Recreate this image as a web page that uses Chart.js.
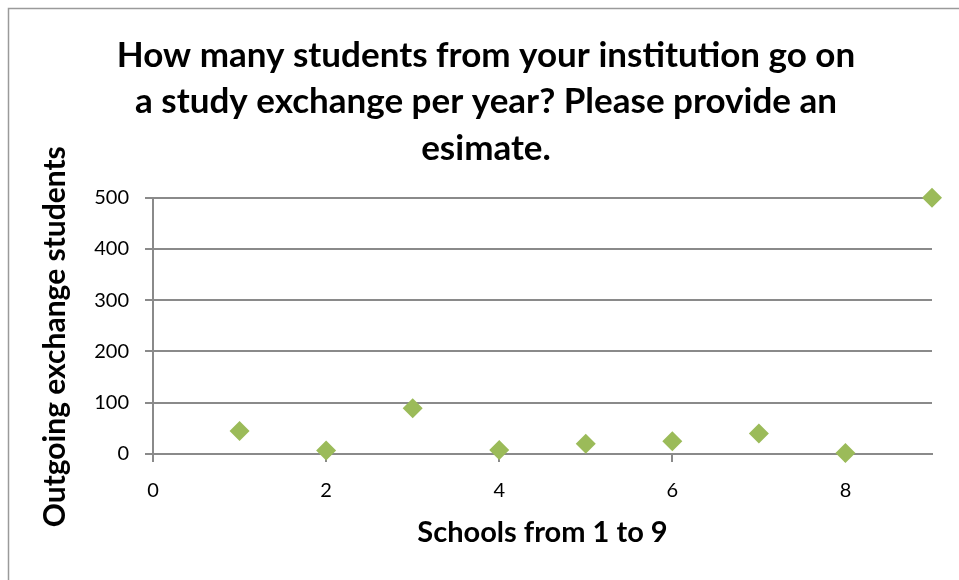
<!DOCTYPE html>
<html>
<head>
<meta charset="utf-8">
<script src="https://cdn.jsdelivr.net/npm/chart.js@4"></script>
<style>
  html, body { margin: 0; padding: 0; background: #fff; }
  #wrap { position: relative; width: 959px; height: 580px; }
</style>
</head>
<body>
<div id="wrap"><canvas id="chart" width="959" height="580"></canvas></div>
<script>
// Schools numbered 1..9 and their yearly outgoing exchange students
const schools = [1, 2, 3, 4, 5, 6, 7, 8, 9];
const outgoingStudents = [45, 7, 89, 8, 20, 25, 40, 2, 500];

const titleLines = [
  'How many students from your institution go on',
  'a study exchange per year? Please provide an',
  'esimate.'
];
const xAxisTitle = 'Schools from 1 to 9';
const yAxisTitle = 'Outgoing exchange students   ';

const points = schools.map((s, i) => ({ x: s, y: outgoingStudents[i] }));

const axisGray = '#8a8a8a';
const fontFamily = 'Lato, "Open Sans", sans-serif';

// Grey frame edges (top and left) of the chart object
const framePlugin = {
  id: 'frame',
  beforeDraw(chart) {
    const ctx = chart.ctx;
    ctx.save();
    ctx.strokeStyle = '#9a9a9a';
    ctx.lineWidth = 1.5;
    ctx.beginPath();
    ctx.moveTo(8.5, 580);
    ctx.lineTo(8.5, 8.5);
    ctx.lineTo(959, 8.5);
    ctx.stroke();
    ctx.restore();
  }
};

new Chart(document.getElementById('chart'), {
  type: 'scatter',
  data: {
    datasets: [{
      data: points,
      clip: false,
      pointStyle: 'rectRot',
      pointRadius: 10,
      pointHoverRadius: 10,
      pointBackgroundColor: '#9BBB59',
      pointBorderColor: '#9BBB59',
      pointBorderWidth: 0
    }]
  },
  options: {
    responsive: false,
    animation: false,
    events: [],
    layout: { padding: { left: 40, right: 27, top: 0, bottom: 0 } },
    plugins: {
      legend: { display: false },
      tooltip: { enabled: false },
      title: {
        display: true,
        text: titleLines,
        color: '#000',
        font: { family: fontFamily, size: 35, weight: 'bold', lineHeight: 1.33 },
        padding: { top: 32, bottom: 26 }
      }
    },
    scales: {
      x: {
        type: 'linear',
        min: 0,
        max: 9,
        afterFit(scale) { scale.height = 126; },
        ticks: {
          stepSize: 2,
          includeBounds: false,
          color: '#000',
          font: { family: fontFamily, size: 20 },
          padding: 17
        },
        grid: {
          drawOnChartArea: false,
          drawTicks: true,
          tickLength: 8,
          color: axisGray,
          lineWidth: 2
        },
        border: { display: true, color: axisGray, width: 2 },
        title: {
          display: true,
          text: xAxisTitle,
          color: '#000',
          font: { family: fontFamily, size: 29, weight: 'bold', lineHeight: 1.2 },
          padding: { top: 0, bottom: 30 }
        }
      },
      y: {
        min: 0,
        max: 500,
        afterFit(scale) { scale.width = 113; },
        ticks: {
          stepSize: 100,
          color: '#000',
          font: { family: fontFamily, size: 20 },
          padding: 16
        },
        grid: {
          color: axisGray,
          lineWidth: 2,
          drawTicks: true,
          tickLength: 8
        },
        border: { display: true, color: axisGray, width: 2 },
        title: {
          display: true,
          text: yAxisTitle,
          color: '#000',
          font: { family: fontFamily, size: 30, weight: 'bold', lineHeight: 1.0 },
          padding: { top: 0, bottom: 0 }
        }
      }
    }
  },
  plugins: [framePlugin]
});
</script>
</body>
</html>
